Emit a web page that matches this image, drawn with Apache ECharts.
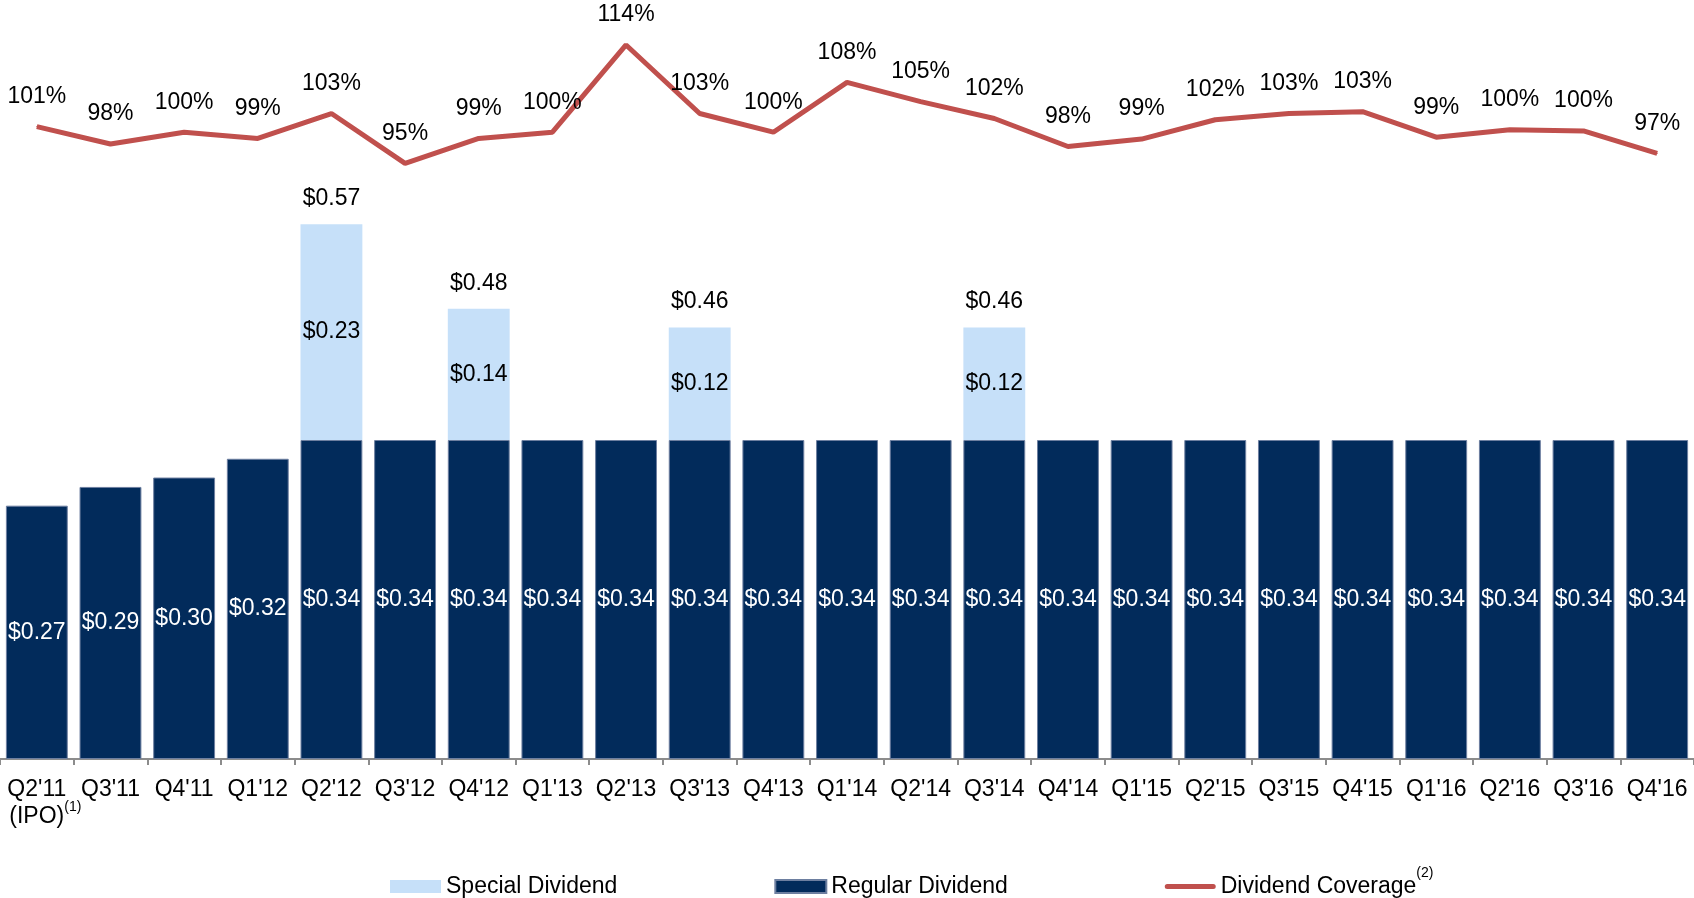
<!DOCTYPE html>
<html>
<head>
<meta charset="utf-8">
<title>Dividends</title>
<script src="https://cdn.jsdelivr.net/npm/echarts@6/dist/echarts.min.js"></script>
<style>
  html, body { margin: 0; padding: 0; background: #fff; }
  #chart { width: 1694px; height: 898px; }
</style>
</head>
<body>
<div id="chart"></div>
<script>
var quarters = ["Q2'11", "Q3'11", "Q4'11", "Q1'12", "Q2'12", "Q3'12", "Q4'12", "Q1'13", "Q2'13", "Q3'13", "Q4'13", "Q1'14",
  "Q2'14", "Q3'14", "Q4'14", "Q1'15", "Q2'15", "Q3'15", "Q4'15", "Q1'16", "Q2'16", "Q3'16", "Q4'16"];
var regularDividend = [0.27, 0.29, 0.30, 0.32, 0.34, 0.34, 0.34, 0.34, 0.34, 0.34, 0.34, 0.34,
  0.34, 0.34, 0.34, 0.34, 0.34, 0.34, 0.34, 0.34, 0.34, 0.34, 0.34];
var specialDividend = [null, null, null, null, 0.23, null, 0.14, null, null, 0.12, null, null,
  null, 0.12, null, null, null, null, null, null, null, null, null];
// coverage in %, labels show the rounded value
var dividendCoverage = [100.9, 98.1, 100.0, 99.0, 103.0, 95.0, 99.0, 100.0, 114.0, 103.0, 100.0, 108.0,
  104.9, 102.2, 97.7, 98.9, 102.0, 103.0, 103.3, 99.2, 100.4, 100.2, 96.6];

var font = 'Liberation Sans, Arial, sans-serif';
var navy = '#022b5b';
var lightBlue = '#c6e0f9';
var red = '#c0504d';

// total above bars that carry a special dividend
var totals = [];
for (var i = 0; i < quarters.length; i++) {
  totals.push(specialDividend[i] ? +(regularDividend[i] + specialDividend[i]).toFixed(2) : null);
}

var money = function (v) { return '$' + v.toFixed(2); };

var myChart = echarts.init(document.getElementById('chart'));

var option = {
  animation: false,
  textStyle: { fontFamily: font },
  grid: { left: 0, right: 0, top: 0, bottom: 139, outerBoundsMode: 'none' },
  legend: {
    left: 385,
    top: 861,
    itemWidth: 51,
    itemHeight: 13,
    itemGap: 157,
    data: [
      { name: 'Special Dividend', icon: 'rect' },
      { name: 'Regular Dividend', icon: 'rect' },
      // thick rounded stroke, padded so the bbox keeps the full item height
      { name: 'Dividend Coverage', icon: 'path://M0,0L0.01,0Z M0,13L0.01,13Z M2.5,4A2.5,2.5,0,0,0,2.5,9L48.5,9A2.5,2.5,0,0,0,48.5,4Z' }
    ],
    formatter: function (name) {
      return name === 'Dividend Coverage' ? name + '{sup|(2)}' : name;
    },
    textStyle: {
      fontSize: 23, color: '#000', fontFamily: font,
      rich: { sup: { fontSize: 14, lineHeight: 14, padding: [0, 0, 27, 0], color: '#000', fontFamily: font } }
    }
  },
  xAxis: {
    type: 'category',
    data: quarters,
    axisLine: { lineStyle: { color: '#8c8c8c', width: 2 } },
    axisTick: { show: true, length: 6, lineStyle: { color: '#8c8c8c', width: 2 } },
    axisLabel: {
      interval: 0,
      margin: 17,
      fontSize: 23,
      lineHeight: 27,
      color: '#000',
      fontFamily: font,
      formatter: function (v, idx) {
        return idx === 0 ? v + '\n{ipo|(IPO)}{sup|(1)}' : v;
      },
      rich: {
        ipo: { fontSize: 23, padding: [0, 0, 0, 17], color: '#000', fontFamily: font },
        sup: { fontSize: 14, lineHeight: 14, padding: [0, 0, 19, 0], color: '#000', fontFamily: font }
      }
    }
  },
  yAxis: [
    { type: 'value', min: 0, max: 0.809, show: false, splitLine: { show: false } },
    { type: 'value', min: -0.61, max: 121.22, show: false, splitLine: { show: false } }
  ],
  series: [
    {
      name: 'Regular Dividend',
      type: 'bar',
      stack: 'div',
      barCategoryGap: '16%',
      data: regularDividend,
      itemStyle: { color: navy, borderColor: '#6d7fa0', borderWidth: 1 },
      label: {
        show: true, position: 'inside', color: '#fff', fontSize: 23, fontFamily: font,
        formatter: function (p) { return money(p.value); }
      }
    },
    {
      name: 'Special Dividend',
      type: 'bar',
      stack: 'div',
      data: specialDividend,
      itemStyle: { color: lightBlue },
      label: {
        show: true, position: 'inside', color: '#000', fontSize: 23, fontFamily: font,
        formatter: function (p) { return money(p.value); }
      }
    },
    {
      name: 'Total',
      type: 'scatter',
      data: totals,
      symbolSize: 0,
      silent: true,
      itemStyle: { opacity: 1, color: '#000' },
      label: {
        show: true, position: 'top', distance: 14, color: '#000', textBorderWidth: 0,
        fontSize: 23, fontFamily: font,
        formatter: function (p) { return money(p.value); }
      }
    },
    {
      name: 'Dividend Coverage',
      type: 'line',
      yAxisIndex: 1,
      data: dividendCoverage,
      symbol: 'circle',
      symbolSize: 1,
      showSymbol: true,
      z: 5,
      lineStyle: { color: red, width: 5 },
      itemStyle: { color: red },
      label: {
        show: true, position: 'top', distance: 18, color: '#000', textBorderWidth: 0,
        fontSize: 23, fontFamily: font,
        formatter: function (p) { return Math.round(p.value) + '%'; }
      }
    }
  ]
};

myChart.setOption(option);
</script>
</body>
</html>
